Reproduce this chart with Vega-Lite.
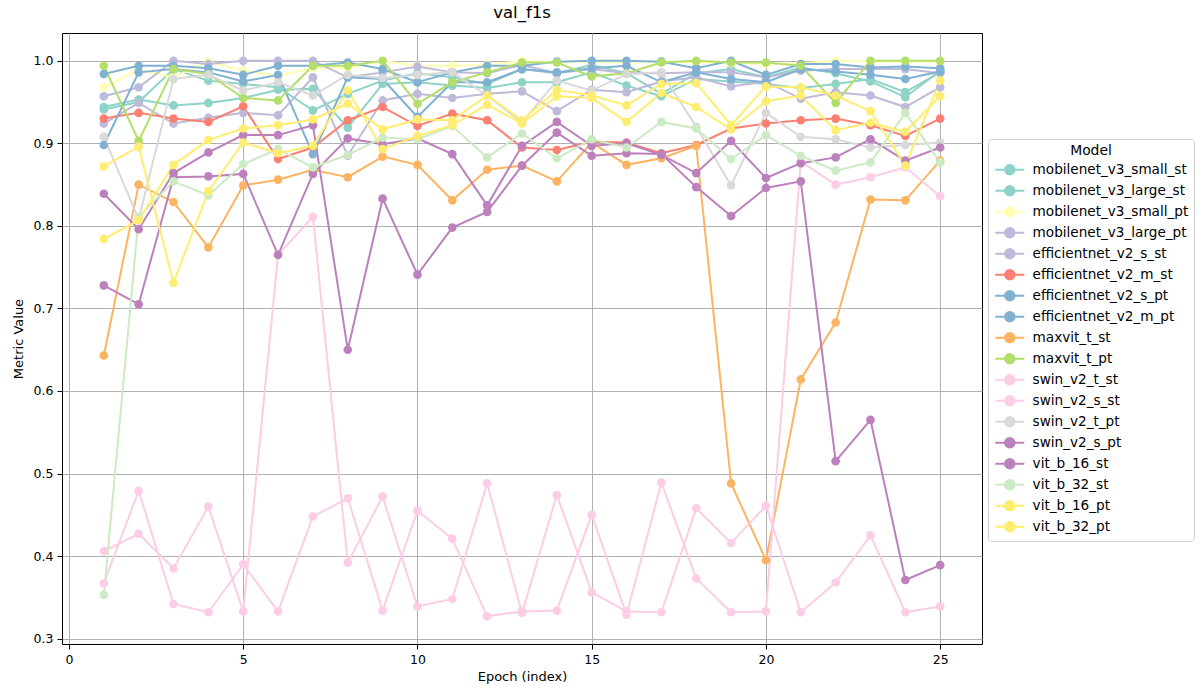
{
"$schema": "https://vega.github.io/schema/vega-lite/v6.json",
"width": 920, "height": 611,
"autosize": {"type": "none"},
"padding": {"left": 62, "top": 33, "right": 220, "bottom": 49},
"background": "white",
"title": {"text": "val_f1s", "fontSize": 16.5, "font": "DejaVu Sans", "fontWeight": "normal", "anchor": "middle", "frame": "group", "offset": 12, "color": "#000"},
"config": {
  "view": {"stroke": "#000", "strokeWidth": 1},
  "axis": {"domain": false, "grid": true, "gridColor": "#b0b0b0", "gridWidth": 1, "tickColor": "#000", "tickSize": 5, "tickWidth": 1, "labelColor": "#000", "labelFont": "DejaVu Sans", "labelFontSize": 12.5, "titleFont": "DejaVu Sans", "titleFontSize": 13, "titleFontWeight": "normal", "titleColor": "#000", "labelPadding": 4}
},
"data": {"values": [
{"m":"mobilenet_v3_small_st","e":1,"v":0.944},{"m":"mobilenet_v3_small_st","e":2,"v":0.953},{"m":"mobilenet_v3_small_st","e":3,"v":0.946},{"m":"mobilenet_v3_small_st","e":4,"v":0.949},{"m":"mobilenet_v3_small_st","e":5,"v":0.955},{"m":"mobilenet_v3_small_st","e":6,"v":0.965},{"m":"mobilenet_v3_small_st","e":7,"v":0.966},{"m":"mobilenet_v3_small_st","e":8,"v":0.919},{"m":"mobilenet_v3_small_st","e":9,"v":0.972},{"m":"mobilenet_v3_small_st","e":10,"v":0.974},{"m":"mobilenet_v3_small_st","e":11,"v":0.970},{"m":"mobilenet_v3_small_st","e":12,"v":0.967},{"m":"mobilenet_v3_small_st","e":13,"v":0.974},{"m":"mobilenet_v3_small_st","e":14,"v":0.974},{"m":"mobilenet_v3_small_st","e":15,"v":0.986},{"m":"mobilenet_v3_small_st","e":16,"v":0.970},{"m":"mobilenet_v3_small_st","e":17,"v":0.957},{"m":"mobilenet_v3_small_st","e":18,"v":0.978},{"m":"mobilenet_v3_small_st","e":19,"v":0.975},{"m":"mobilenet_v3_small_st","e":20,"v":0.972},{"m":"mobilenet_v3_small_st","e":21,"v":0.967},{"m":"mobilenet_v3_small_st","e":22,"v":0.972},{"m":"mobilenet_v3_small_st","e":23,"v":0.978},{"m":"mobilenet_v3_small_st","e":24,"v":0.962},{"m":"mobilenet_v3_small_st","e":25,"v":0.986},
{"m":"mobilenet_v3_large_st","e":1,"v":0.941},{"m":"mobilenet_v3_large_st","e":2,"v":0.950},{"m":"mobilenet_v3_large_st","e":3,"v":0.990},{"m":"mobilenet_v3_large_st","e":4,"v":0.976},{"m":"mobilenet_v3_large_st","e":5,"v":0.972},{"m":"mobilenet_v3_large_st","e":6,"v":0.968},{"m":"mobilenet_v3_large_st","e":7,"v":0.940},{"m":"mobilenet_v3_large_st","e":8,"v":0.960},{"m":"mobilenet_v3_large_st","e":9,"v":0.976},{"m":"mobilenet_v3_large_st","e":10,"v":0.985},{"m":"mobilenet_v3_large_st","e":11,"v":0.980},{"m":"mobilenet_v3_large_st","e":12,"v":0.972},{"m":"mobilenet_v3_large_st","e":13,"v":0.990},{"m":"mobilenet_v3_large_st","e":14,"v":0.985},{"m":"mobilenet_v3_large_st","e":15,"v":0.995},{"m":"mobilenet_v3_large_st","e":16,"v":0.985},{"m":"mobilenet_v3_large_st","e":17,"v":0.960},{"m":"mobilenet_v3_large_st","e":18,"v":0.985},{"m":"mobilenet_v3_large_st","e":19,"v":0.990},{"m":"mobilenet_v3_large_st","e":20,"v":0.980},{"m":"mobilenet_v3_large_st","e":21,"v":0.992},{"m":"mobilenet_v3_large_st","e":22,"v":0.985},{"m":"mobilenet_v3_large_st","e":23,"v":0.975},{"m":"mobilenet_v3_large_st","e":24,"v":0.956},{"m":"mobilenet_v3_large_st","e":25,"v":0.988},
{"m":"mobilenet_v3_small_pt","e":1,"v":0.968},{"m":"mobilenet_v3_small_pt","e":2,"v":0.989},{"m":"mobilenet_v3_small_pt","e":3,"v":0.980},{"m":"mobilenet_v3_small_pt","e":4,"v":0.999},{"m":"mobilenet_v3_small_pt","e":5,"v":0.988},{"m":"mobilenet_v3_small_pt","e":6,"v":0.982},{"m":"mobilenet_v3_small_pt","e":7,"v":0.991},{"m":"mobilenet_v3_small_pt","e":8,"v":0.991},{"m":"mobilenet_v3_small_pt","e":9,"v":1.0},{"m":"mobilenet_v3_small_pt","e":10,"v":0.994},{"m":"mobilenet_v3_small_pt","e":11,"v":0.994},{"m":"mobilenet_v3_small_pt","e":12,"v":0.995},{"m":"mobilenet_v3_small_pt","e":13,"v":1.0},{"m":"mobilenet_v3_small_pt","e":14,"v":0.998},{"m":"mobilenet_v3_small_pt","e":15,"v":0.999},{"m":"mobilenet_v3_small_pt","e":16,"v":0.998},{"m":"mobilenet_v3_small_pt","e":17,"v":0.999},{"m":"mobilenet_v3_small_pt","e":18,"v":0.998},{"m":"mobilenet_v3_small_pt","e":19,"v":0.997},{"m":"mobilenet_v3_small_pt","e":20,"v":0.996},{"m":"mobilenet_v3_small_pt","e":21,"v":0.997},{"m":"mobilenet_v3_small_pt","e":22,"v":1.0},{"m":"mobilenet_v3_small_pt","e":23,"v":0.999},{"m":"mobilenet_v3_small_pt","e":24,"v":0.999},{"m":"mobilenet_v3_small_pt","e":25,"v":0.999},
{"m":"mobilenet_v3_large_pt","e":1,"v":0.957},{"m":"mobilenet_v3_large_pt","e":2,"v":0.968},{"m":"mobilenet_v3_large_pt","e":3,"v":1.0},{"m":"mobilenet_v3_large_pt","e":4,"v":0.996},{"m":"mobilenet_v3_large_pt","e":5,"v":1.0},{"m":"mobilenet_v3_large_pt","e":6,"v":1.0},{"m":"mobilenet_v3_large_pt","e":7,"v":1.0},{"m":"mobilenet_v3_large_pt","e":8,"v":0.980},{"m":"mobilenet_v3_large_pt","e":9,"v":0.986},{"m":"mobilenet_v3_large_pt","e":10,"v":0.993},{"m":"mobilenet_v3_large_pt","e":11,"v":0.986},{"m":"mobilenet_v3_large_pt","e":12,"v":0.985},{"m":"mobilenet_v3_large_pt","e":13,"v":0.995},{"m":"mobilenet_v3_large_pt","e":14,"v":0.985},{"m":"mobilenet_v3_large_pt","e":15,"v":0.990},{"m":"mobilenet_v3_large_pt","e":16,"v":0.985},{"m":"mobilenet_v3_large_pt","e":17,"v":0.985},{"m":"mobilenet_v3_large_pt","e":18,"v":0.986},{"m":"mobilenet_v3_large_pt","e":19,"v":0.986},{"m":"mobilenet_v3_large_pt","e":20,"v":0.980},{"m":"mobilenet_v3_large_pt","e":21,"v":0.988},{"m":"mobilenet_v3_large_pt","e":22,"v":0.990},{"m":"mobilenet_v3_large_pt","e":23,"v":0.990},{"m":"mobilenet_v3_large_pt","e":24,"v":0.990},{"m":"mobilenet_v3_large_pt","e":25,"v":0.985},
{"m":"efficientnet_v2_s_st","e":1,"v":0.924},{"m":"efficientnet_v2_s_st","e":2,"v":0.949},{"m":"efficientnet_v2_s_st","e":3,"v":0.924},{"m":"efficientnet_v2_s_st","e":4,"v":0.931},{"m":"efficientnet_v2_s_st","e":5,"v":0.937},{"m":"efficientnet_v2_s_st","e":6,"v":0.934},{"m":"efficientnet_v2_s_st","e":7,"v":0.980},{"m":"efficientnet_v2_s_st","e":8,"v":0.885},{"m":"efficientnet_v2_s_st","e":9,"v":0.952},{"m":"efficientnet_v2_s_st","e":10,"v":0.960},{"m":"efficientnet_v2_s_st","e":11,"v":0.955},{"m":"efficientnet_v2_s_st","e":12,"v":0.960},{"m":"efficientnet_v2_s_st","e":13,"v":0.963},{"m":"efficientnet_v2_s_st","e":14,"v":0.939},{"m":"efficientnet_v2_s_st","e":15,"v":0.965},{"m":"efficientnet_v2_s_st","e":16,"v":0.962},{"m":"efficientnet_v2_s_st","e":17,"v":0.975},{"m":"efficientnet_v2_s_st","e":18,"v":0.980},{"m":"efficientnet_v2_s_st","e":19,"v":0.969},{"m":"efficientnet_v2_s_st","e":20,"v":0.975},{"m":"efficientnet_v2_s_st","e":21,"v":0.954},{"m":"efficientnet_v2_s_st","e":22,"v":0.962},{"m":"efficientnet_v2_s_st","e":23,"v":0.958},{"m":"efficientnet_v2_s_st","e":24,"v":0.944},{"m":"efficientnet_v2_s_st","e":25,"v":0.968},
{"m":"efficientnet_v2_m_st","e":1,"v":0.930},{"m":"efficientnet_v2_m_st","e":2,"v":0.937},{"m":"efficientnet_v2_m_st","e":3,"v":0.930},{"m":"efficientnet_v2_m_st","e":4,"v":0.926},{"m":"efficientnet_v2_m_st","e":5,"v":0.945},{"m":"efficientnet_v2_m_st","e":6,"v":0.881},{"m":"efficientnet_v2_m_st","e":7,"v":0.895},{"m":"efficientnet_v2_m_st","e":8,"v":0.928},{"m":"efficientnet_v2_m_st","e":9,"v":0.944},{"m":"efficientnet_v2_m_st","e":10,"v":0.921},{"m":"efficientnet_v2_m_st","e":11,"v":0.936},{"m":"efficientnet_v2_m_st","e":12,"v":0.928},{"m":"efficientnet_v2_m_st","e":13,"v":0.895},{"m":"efficientnet_v2_m_st","e":14,"v":0.892},{"m":"efficientnet_v2_m_st","e":15,"v":0.902},{"m":"efficientnet_v2_m_st","e":16,"v":0.901},{"m":"efficientnet_v2_m_st","e":17,"v":0.888},{"m":"efficientnet_v2_m_st","e":18,"v":0.898},{"m":"efficientnet_v2_m_st","e":19,"v":0.918},{"m":"efficientnet_v2_m_st","e":20,"v":0.924},{"m":"efficientnet_v2_m_st","e":21,"v":0.928},{"m":"efficientnet_v2_m_st","e":22,"v":0.930},{"m":"efficientnet_v2_m_st","e":23,"v":0.922},{"m":"efficientnet_v2_m_st","e":24,"v":0.909},{"m":"efficientnet_v2_m_st","e":25,"v":0.930},
{"m":"efficientnet_v2_s_pt","e":1,"v":0.984},{"m":"efficientnet_v2_s_pt","e":2,"v":0.994},{"m":"efficientnet_v2_s_pt","e":3,"v":0.994},{"m":"efficientnet_v2_s_pt","e":4,"v":0.991},{"m":"efficientnet_v2_s_pt","e":5,"v":0.983},{"m":"efficientnet_v2_s_pt","e":6,"v":0.994},{"m":"efficientnet_v2_s_pt","e":7,"v":0.994},{"m":"efficientnet_v2_s_pt","e":8,"v":0.998},{"m":"efficientnet_v2_s_pt","e":9,"v":0.990},{"m":"efficientnet_v2_s_pt","e":10,"v":0.974},{"m":"efficientnet_v2_s_pt","e":11,"v":0.986},{"m":"efficientnet_v2_s_pt","e":12,"v":0.994},{"m":"efficientnet_v2_s_pt","e":13,"v":0.994},{"m":"efficientnet_v2_s_pt","e":14,"v":0.999},{"m":"efficientnet_v2_s_pt","e":15,"v":1.0},{"m":"efficientnet_v2_s_pt","e":16,"v":1.0},{"m":"efficientnet_v2_s_pt","e":17,"v":0.999},{"m":"efficientnet_v2_s_pt","e":18,"v":0.991},{"m":"efficientnet_v2_s_pt","e":19,"v":1.0},{"m":"efficientnet_v2_s_pt","e":20,"v":0.983},{"m":"efficientnet_v2_s_pt","e":21,"v":0.996},{"m":"efficientnet_v2_s_pt","e":22,"v":0.996},{"m":"efficientnet_v2_s_pt","e":23,"v":0.992},{"m":"efficientnet_v2_s_pt","e":24,"v":0.993},{"m":"efficientnet_v2_s_pt","e":25,"v":0.991},
{"m":"efficientnet_v2_m_pt","e":1,"v":0.898},{"m":"efficientnet_v2_m_pt","e":2,"v":0.986},{"m":"efficientnet_v2_m_pt","e":3,"v":0.990},{"m":"efficientnet_v2_m_pt","e":4,"v":0.986},{"m":"efficientnet_v2_m_pt","e":5,"v":0.975},{"m":"efficientnet_v2_m_pt","e":6,"v":0.983},{"m":"efficientnet_v2_m_pt","e":7,"v":0.887},{"m":"efficientnet_v2_m_pt","e":8,"v":0.980},{"m":"efficientnet_v2_m_pt","e":9,"v":0.978},{"m":"efficientnet_v2_m_pt","e":10,"v":0.932},{"m":"efficientnet_v2_m_pt","e":11,"v":0.974},{"m":"efficientnet_v2_m_pt","e":12,"v":0.974},{"m":"efficientnet_v2_m_pt","e":13,"v":0.990},{"m":"efficientnet_v2_m_pt","e":14,"v":0.986},{"m":"efficientnet_v2_m_pt","e":15,"v":0.991},{"m":"efficientnet_v2_m_pt","e":16,"v":0.994},{"m":"efficientnet_v2_m_pt","e":17,"v":0.974},{"m":"efficientnet_v2_m_pt","e":18,"v":0.986},{"m":"efficientnet_v2_m_pt","e":19,"v":0.978},{"m":"efficientnet_v2_m_pt","e":20,"v":0.974},{"m":"efficientnet_v2_m_pt","e":21,"v":0.990},{"m":"efficientnet_v2_m_pt","e":22,"v":0.987},{"m":"efficientnet_v2_m_pt","e":23,"v":0.983},{"m":"efficientnet_v2_m_pt","e":24,"v":0.978},{"m":"efficientnet_v2_m_pt","e":25,"v":0.987},
{"m":"maxvit_t_st","e":1,"v":0.643},{"m":"maxvit_t_st","e":2,"v":0.850},{"m":"maxvit_t_st","e":3,"v":0.829},{"m":"maxvit_t_st","e":4,"v":0.774},{"m":"maxvit_t_st","e":5,"v":0.849},{"m":"maxvit_t_st","e":6,"v":0.856},{"m":"maxvit_t_st","e":7,"v":0.868},{"m":"maxvit_t_st","e":8,"v":0.859},{"m":"maxvit_t_st","e":9,"v":0.884},{"m":"maxvit_t_st","e":10,"v":0.874},{"m":"maxvit_t_st","e":11,"v":0.831},{"m":"maxvit_t_st","e":12,"v":0.868},{"m":"maxvit_t_st","e":13,"v":0.873},{"m":"maxvit_t_st","e":14,"v":0.854},{"m":"maxvit_t_st","e":15,"v":0.901},{"m":"maxvit_t_st","e":16,"v":0.874},{"m":"maxvit_t_st","e":17,"v":0.882},{"m":"maxvit_t_st","e":18,"v":0.897},{"m":"maxvit_t_st","e":19,"v":0.488},{"m":"maxvit_t_st","e":20,"v":0.395},{"m":"maxvit_t_st","e":21,"v":0.614},{"m":"maxvit_t_st","e":22,"v":0.683},{"m":"maxvit_t_st","e":23,"v":0.832},{"m":"maxvit_t_st","e":24,"v":0.831},{"m":"maxvit_t_st","e":25,"v":0.879},
{"m":"maxvit_t_pt","e":1,"v":0.994},{"m":"maxvit_t_pt","e":2,"v":0.903},{"m":"maxvit_t_pt","e":3,"v":0.990},{"m":"maxvit_t_pt","e":4,"v":0.984},{"m":"maxvit_t_pt","e":5,"v":0.955},{"m":"maxvit_t_pt","e":6,"v":0.952},{"m":"maxvit_t_pt","e":7,"v":0.994},{"m":"maxvit_t_pt","e":8,"v":0.994},{"m":"maxvit_t_pt","e":9,"v":1.0},{"m":"maxvit_t_pt","e":10,"v":0.948},{"m":"maxvit_t_pt","e":11,"v":0.974},{"m":"maxvit_t_pt","e":12,"v":0.986},{"m":"maxvit_t_pt","e":13,"v":0.998},{"m":"maxvit_t_pt","e":14,"v":0.998},{"m":"maxvit_t_pt","e":15,"v":0.981},{"m":"maxvit_t_pt","e":16,"v":0.985},{"m":"maxvit_t_pt","e":17,"v":0.998},{"m":"maxvit_t_pt","e":18,"v":1.0},{"m":"maxvit_t_pt","e":19,"v":0.998},{"m":"maxvit_t_pt","e":20,"v":0.998},{"m":"maxvit_t_pt","e":21,"v":0.994},{"m":"maxvit_t_pt","e":22,"v":0.949},{"m":"maxvit_t_pt","e":23,"v":1.0},{"m":"maxvit_t_pt","e":24,"v":1.0},{"m":"maxvit_t_pt","e":25,"v":1.0},
{"m":"swin_v2_t_st","e":1,"v":0.406},{"m":"swin_v2_t_st","e":2,"v":0.427},{"m":"swin_v2_t_st","e":3,"v":0.385},{"m":"swin_v2_t_st","e":4,"v":0.460},{"m":"swin_v2_t_st","e":5,"v":0.333},{"m":"swin_v2_t_st","e":6,"v":0.765},{"m":"swin_v2_t_st","e":7,"v":0.811},{"m":"swin_v2_t_st","e":8,"v":0.392},{"m":"swin_v2_t_st","e":9,"v":0.472},{"m":"swin_v2_t_st","e":10,"v":0.339},{"m":"swin_v2_t_st","e":11,"v":0.348},{"m":"swin_v2_t_st","e":12,"v":0.488},{"m":"swin_v2_t_st","e":13,"v":0.331},{"m":"swin_v2_t_st","e":14,"v":0.474},{"m":"swin_v2_t_st","e":15,"v":0.356},{"m":"swin_v2_t_st","e":16,"v":0.333},{"m":"swin_v2_t_st","e":17,"v":0.332},{"m":"swin_v2_t_st","e":18,"v":0.458},{"m":"swin_v2_t_st","e":19,"v":0.416},{"m":"swin_v2_t_st","e":20,"v":0.461},{"m":"swin_v2_t_st","e":21,"v":0.332},{"m":"swin_v2_t_st","e":22,"v":0.368},{"m":"swin_v2_t_st","e":23,"v":0.425},{"m":"swin_v2_t_st","e":24,"v":0.332},{"m":"swin_v2_t_st","e":25,"v":0.339},
{"m":"swin_v2_s_st","e":1,"v":0.367},{"m":"swin_v2_s_st","e":2,"v":0.479},{"m":"swin_v2_s_st","e":3,"v":0.342},{"m":"swin_v2_s_st","e":4,"v":0.332},{"m":"swin_v2_s_st","e":5,"v":0.390},{"m":"swin_v2_s_st","e":6,"v":0.333},{"m":"swin_v2_s_st","e":7,"v":0.448},{"m":"swin_v2_s_st","e":8,"v":0.470},{"m":"swin_v2_s_st","e":9,"v":0.334},{"m":"swin_v2_s_st","e":10,"v":0.455},{"m":"swin_v2_s_st","e":11,"v":0.421},{"m":"swin_v2_s_st","e":12,"v":0.327},{"m":"swin_v2_s_st","e":13,"v":0.333},{"m":"swin_v2_s_st","e":14,"v":0.334},{"m":"swin_v2_s_st","e":15,"v":0.450},{"m":"swin_v2_s_st","e":16,"v":0.329},{"m":"swin_v2_s_st","e":17,"v":0.489},{"m":"swin_v2_s_st","e":18,"v":0.373},{"m":"swin_v2_s_st","e":19,"v":0.332},{"m":"swin_v2_s_st","e":20,"v":0.333},{"m":"swin_v2_s_st","e":21,"v":0.878},{"m":"swin_v2_s_st","e":22,"v":0.850},{"m":"swin_v2_s_st","e":23,"v":0.859},{"m":"swin_v2_s_st","e":24,"v":0.871},{"m":"swin_v2_s_st","e":25,"v":0.836},
{"m":"swin_v2_t_pt","e":1,"v":0.908},{"m":"swin_v2_t_pt","e":2,"v":0.808},{"m":"swin_v2_t_pt","e":3,"v":0.978},{"m":"swin_v2_t_pt","e":4,"v":0.983},{"m":"swin_v2_t_pt","e":5,"v":0.964},{"m":"swin_v2_t_pt","e":6,"v":0.974},{"m":"swin_v2_t_pt","e":7,"v":0.958},{"m":"swin_v2_t_pt","e":8,"v":0.983},{"m":"swin_v2_t_pt","e":9,"v":0.979},{"m":"swin_v2_t_pt","e":10,"v":0.983},{"m":"swin_v2_t_pt","e":11,"v":0.986},{"m":"swin_v2_t_pt","e":12,"v":0.958},{"m":"swin_v2_t_pt","e":13,"v":0.925},{"m":"swin_v2_t_pt","e":14,"v":0.976},{"m":"swin_v2_t_pt","e":15,"v":0.964},{"m":"swin_v2_t_pt","e":16,"v":0.984},{"m":"swin_v2_t_pt","e":17,"v":0.986},{"m":"swin_v2_t_pt","e":18,"v":0.920},{"m":"swin_v2_t_pt","e":19,"v":0.849},{"m":"swin_v2_t_pt","e":20,"v":0.937},{"m":"swin_v2_t_pt","e":21,"v":0.908},{"m":"swin_v2_t_pt","e":22,"v":0.905},{"m":"swin_v2_t_pt","e":23,"v":0.895},{"m":"swin_v2_t_pt","e":24,"v":0.898},{"m":"swin_v2_t_pt","e":25,"v":0.901},
{"m":"swin_v2_s_pt","e":1,"v":0.839},{"m":"swin_v2_s_pt","e":2,"v":0.796},{"m":"swin_v2_s_pt","e":3,"v":0.864},{"m":"swin_v2_s_pt","e":4,"v":0.889},{"m":"swin_v2_s_pt","e":5,"v":0.910},{"m":"swin_v2_s_pt","e":6,"v":0.910},{"m":"swin_v2_s_pt","e":7,"v":0.922},{"m":"swin_v2_s_pt","e":8,"v":0.650},{"m":"swin_v2_s_pt","e":9,"v":0.833},{"m":"swin_v2_s_pt","e":10,"v":0.741},{"m":"swin_v2_s_pt","e":11,"v":0.798},{"m":"swin_v2_s_pt","e":12,"v":0.817},{"m":"swin_v2_s_pt","e":13,"v":0.873},{"m":"swin_v2_s_pt","e":14,"v":0.913},{"m":"swin_v2_s_pt","e":15,"v":0.885},{"m":"swin_v2_s_pt","e":16,"v":0.888},{"m":"swin_v2_s_pt","e":17,"v":0.887},{"m":"swin_v2_s_pt","e":18,"v":0.847},{"m":"swin_v2_s_pt","e":19,"v":0.812},{"m":"swin_v2_s_pt","e":20,"v":0.846},{"m":"swin_v2_s_pt","e":21,"v":0.854},{"m":"swin_v2_s_pt","e":22,"v":0.515},{"m":"swin_v2_s_pt","e":23,"v":0.565},{"m":"swin_v2_s_pt","e":24,"v":0.371},{"m":"swin_v2_s_pt","e":25,"v":0.389},
{"m":"vit_b_16_st","e":1,"v":0.728},{"m":"vit_b_16_st","e":2,"v":0.705},{"m":"vit_b_16_st","e":3,"v":0.859},{"m":"vit_b_16_st","e":4,"v":0.860},{"m":"vit_b_16_st","e":5,"v":0.863},{"m":"vit_b_16_st","e":6,"v":0.765},{"m":"vit_b_16_st","e":7,"v":0.863},{"m":"vit_b_16_st","e":8,"v":0.906},{"m":"vit_b_16_st","e":9,"v":0.899},{"m":"vit_b_16_st","e":10,"v":0.906},{"m":"vit_b_16_st","e":11,"v":0.887},{"m":"vit_b_16_st","e":12,"v":0.825},{"m":"vit_b_16_st","e":13,"v":0.897},{"m":"vit_b_16_st","e":14,"v":0.926},{"m":"vit_b_16_st","e":15,"v":0.897},{"m":"vit_b_16_st","e":16,"v":0.900},{"m":"vit_b_16_st","e":17,"v":0.886},{"m":"vit_b_16_st","e":18,"v":0.864},{"m":"vit_b_16_st","e":19,"v":0.903},{"m":"vit_b_16_st","e":20,"v":0.858},{"m":"vit_b_16_st","e":21,"v":0.876},{"m":"vit_b_16_st","e":22,"v":0.883},{"m":"vit_b_16_st","e":23,"v":0.905},{"m":"vit_b_16_st","e":24,"v":0.879},{"m":"vit_b_16_st","e":25,"v":0.895},
{"m":"vit_b_32_st","e":1,"v":0.353},{"m":"vit_b_32_st","e":2,"v":0.811},{"m":"vit_b_32_st","e":3,"v":0.854},{"m":"vit_b_32_st","e":4,"v":0.837},{"m":"vit_b_32_st","e":5,"v":0.875},{"m":"vit_b_32_st","e":6,"v":0.893},{"m":"vit_b_32_st","e":7,"v":0.871},{"m":"vit_b_32_st","e":8,"v":0.886},{"m":"vit_b_32_st","e":9,"v":0.907},{"m":"vit_b_32_st","e":10,"v":0.905},{"m":"vit_b_32_st","e":11,"v":0.921},{"m":"vit_b_32_st","e":12,"v":0.883},{"m":"vit_b_32_st","e":13,"v":0.912},{"m":"vit_b_32_st","e":14,"v":0.882},{"m":"vit_b_32_st","e":15,"v":0.905},{"m":"vit_b_32_st","e":16,"v":0.895},{"m":"vit_b_32_st","e":17,"v":0.926},{"m":"vit_b_32_st","e":18,"v":0.918},{"m":"vit_b_32_st","e":19,"v":0.881},{"m":"vit_b_32_st","e":20,"v":0.910},{"m":"vit_b_32_st","e":21,"v":0.885},{"m":"vit_b_32_st","e":22,"v":0.867},{"m":"vit_b_32_st","e":23,"v":0.877},{"m":"vit_b_32_st","e":24,"v":0.937},{"m":"vit_b_32_st","e":25,"v":0.877},
{"m":"vit_b_16_pt","e":1,"v":0.872},{"m":"vit_b_16_pt","e":2,"v":0.896},{"m":"vit_b_16_pt","e":3,"v":0.731},{"m":"vit_b_16_pt","e":4,"v":0.842},{"m":"vit_b_16_pt","e":5,"v":0.901},{"m":"vit_b_16_pt","e":6,"v":0.888},{"m":"vit_b_16_pt","e":7,"v":0.897},{"m":"vit_b_16_pt","e":8,"v":0.964},{"m":"vit_b_16_pt","e":9,"v":0.893},{"m":"vit_b_16_pt","e":10,"v":0.909},{"m":"vit_b_16_pt","e":11,"v":0.922},{"m":"vit_b_16_pt","e":12,"v":0.947},{"m":"vit_b_16_pt","e":13,"v":0.924},{"m":"vit_b_16_pt","e":14,"v":0.957},{"m":"vit_b_16_pt","e":15,"v":0.955},{"m":"vit_b_16_pt","e":16,"v":0.926},{"m":"vit_b_16_pt","e":17,"v":0.961},{"m":"vit_b_16_pt","e":18,"v":0.944},{"m":"vit_b_16_pt","e":19,"v":0.917},{"m":"vit_b_16_pt","e":20,"v":0.951},{"m":"vit_b_16_pt","e":21,"v":0.958},{"m":"vit_b_16_pt","e":22,"v":0.916},{"m":"vit_b_16_pt","e":23,"v":0.925},{"m":"vit_b_16_pt","e":24,"v":0.914},{"m":"vit_b_16_pt","e":25,"v":0.957},
{"m":"vit_b_32_pt","e":1,"v":0.784},{"m":"vit_b_32_pt","e":2,"v":0.807},{"m":"vit_b_32_pt","e":3,"v":0.874},{"m":"vit_b_32_pt","e":4,"v":0.904},{"m":"vit_b_32_pt","e":5,"v":0.918},{"m":"vit_b_32_pt","e":6,"v":0.922},{"m":"vit_b_32_pt","e":7,"v":0.929},{"m":"vit_b_32_pt","e":8,"v":0.948},{"m":"vit_b_32_pt","e":9,"v":0.917},{"m":"vit_b_32_pt","e":10,"v":0.929},{"m":"vit_b_32_pt","e":11,"v":0.928},{"m":"vit_b_32_pt","e":12,"v":0.958},{"m":"vit_b_32_pt","e":13,"v":0.928},{"m":"vit_b_32_pt","e":14,"v":0.965},{"m":"vit_b_32_pt","e":15,"v":0.958},{"m":"vit_b_32_pt","e":16,"v":0.946},{"m":"vit_b_32_pt","e":17,"v":0.972},{"m":"vit_b_32_pt","e":18,"v":0.973},{"m":"vit_b_32_pt","e":19,"v":0.922},{"m":"vit_b_32_pt","e":20,"v":0.969},{"m":"vit_b_32_pt","e":21,"v":0.968},{"m":"vit_b_32_pt","e":22,"v":0.958},{"m":"vit_b_32_pt","e":23,"v":0.939},{"m":"vit_b_32_pt","e":24,"v":0.873},{"m":"vit_b_32_pt","e":25,"v":0.976}
]},
"mark": {"type": "line", "strokeWidth": 2, "point": {"filled": true, "size": 75, "opacity": 1}},
"encoding": {
  "x": {"field": "e", "type": "quantitative", "title": "Epoch (index)", "scale": {"domain": [-0.2, 26.2], "nice": false, "zero": false}, "axis": {"values": [0, 5, 10, 15, 20, 25], "format": "d", "titlePadding": 5}},
  "y": {"field": "v", "type": "quantitative", "title": "Metric Value", "scale": {"domain": [0.2935, 1.0337], "nice": false, "zero": false}, "axis": {"values": [0.3, 0.4, 0.5, 0.6, 0.7, 0.8, 0.9, 1.0], "format": ".1f", "titlePadding": 8}},
  "color": {"field": "m", "type": "nominal", "title": "Model",
    "scale": {"domain": ["mobilenet_v3_small_st","mobilenet_v3_large_st","mobilenet_v3_small_pt","mobilenet_v3_large_pt","efficientnet_v2_s_st","efficientnet_v2_m_st","efficientnet_v2_s_pt","efficientnet_v2_m_pt","maxvit_t_st","maxvit_t_pt","swin_v2_t_st","swin_v2_s_st","swin_v2_t_pt","swin_v2_s_pt","vit_b_16_st","vit_b_32_st","vit_b_16_pt","vit_b_32_pt"],
      "range": ["#8dd3c7","#8dd3c7","#ffffb3","#bebada","#bebada","#fb8072","#80b1d3","#80b1d3","#fdb462","#b3de69","#fccde5","#fccde5","#d9d9d9","#bc80bd","#bc80bd","#ccebc5","#ffed6f","#ffed6f"]},
    "legend": {"orient": "none", "legendX": 926, "legendY": 106, "symbolType": "M-2.9,0L2.9,0M-0.95,0A0.95,0.95,0,1,0,0.95,0A0.95,0.95,0,1,0,-0.95,0", "symbolSize": 100, "symbolOffset": 10, "symbolStrokeWidth": 2, "labelFont": "DejaVu Sans", "labelFontSize": 13.6, "labelLimit": 300, "labelColor": "#000", "titleFont": "DejaVu Sans", "titleFontSize": 13.9, "titleFontWeight": "normal", "titleColor": "#000", "titleAnchor": "middle", "titlePadding": 5, "strokeColor": "#d0d0d0", "cornerRadius": 3, "padding": 5, "fillColor": "white", "rowPadding": 3, "labelOffset": 16,
      "encode": {"symbols": {"update": {"fill": {"scale": "color", "field": "value"}, "stroke": {"scale": "color", "field": "value"}, "opacity": {"value": 1}}}}}
  }
}
}
